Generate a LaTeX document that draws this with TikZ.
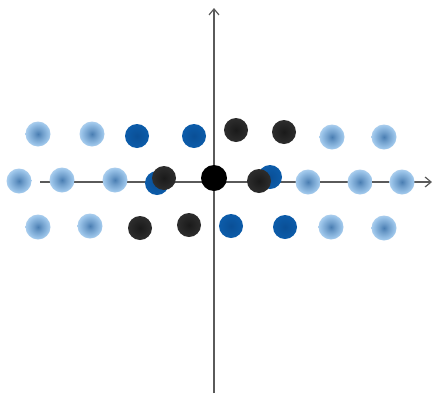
\documentclass[tikz,border=0pt]{standalone}
\usetikzlibrary{arrows.meta}
\definecolor{lbc}{HTML}{4A7EB2}
\definecolor{lbm}{HTML}{9CC5EA}
\definecolor{lbo}{HTML}{DCEBF8}
\definecolor{dbc}{HTML}{0A4F96}
\definecolor{dbm}{HTML}{0D5FAE}
\definecolor{dbo}{HTML}{6FA6D8}
\definecolor{bkc}{HTML}{1A1A1A}
\definecolor{bkm}{HTML}{333333}
\definecolor{bko}{HTML}{9A9A9A}
\definecolor{axisc}{HTML}{5A5A5A}
\pgfdeclareradialshading{lbdot}{\pgfpoint{0bp}{0bp}}{color(0bp)=(lbc); color(8bp)=(lbc!60!lbm); color(22bp)=(lbm); color(36bp)=(lbo); color(50bp)=(white)}
\pgfdeclareradialshading{dbdot}{\pgfpoint{0bp}{0bp}}{color(0bp)=(dbc); color(30bp)=(dbm); color(40bp)=(dbm!75!dbo); color(50bp)=(white)}
\pgfdeclareradialshading{bkdot}{\pgfpoint{0bp}{0bp}}{color(0bp)=(bkc); color(32bp)=(bkm); color(42bp)=(bkm!70!bko); color(50bp)=(white)}
\pgfdeclareradialshading{bcdot}{\pgfpoint{0bp}{0bp}}{color(0bp)=(black); color(38bp)=(black); color(45bp)=(bkm); color(50bp)=(white)}
\tikzset{
  dotbase/.style={circle, inner sep=0pt, draw=none},
  lb/.style={dotbase, minimum size=25pt, shading=lbdot},
  db/.style={dotbase, minimum size=24pt, shading=dbdot},
  bk/.style={dotbase, minimum size=24pt, shading=bkdot},
  bc/.style={dotbase, minimum size=26pt, shading=bcdot},
  axisline/.style={draw=axisc, line width=1.2pt, -{Straight Barb[length=6pt,width=10pt,line width=1.2pt]}}
}
\begin{document}
\begin{tikzpicture}[x=1pt,y=-1pt]
\useasboundingbox (0,0) rectangle (434,397);
\fill[white] (0,0) rectangle (434,397);
% axes
\coordinate (xs) at (40,182);
\coordinate (xe) at (432,182);
\coordinate (ys) at (214,393);
\coordinate (ye) at (214,8);
\draw[axisline] (xs) -- (xe);
\draw[axisline] (ys) -- (ye);
% light blue dots
\node[lb] (t1) at (38,134) {};
\node[lb] (t2) at (92,134) {};
\node[lb] (t7) at (332,137) {};
\node[lb] (t8) at (384,137) {};
\node[lb] (m1) at (19,181) {};
\node[lb] (m2) at (62,180) {};
\node[lb] (m3) at (115,180) {};
\node[lb] (m7) at (308,182) {};
\node[lb] (m8) at (360,182) {};
\node[lb] (m9) at (402,182) {};
\node[lb] (b1) at (38,227) {};
\node[lb] (b2) at (90,226) {};
\node[lb] (b7) at (331,227) {};
\node[lb] (b8) at (384,228) {};
% dark blue dots
\node[db] (t3) at (137,136) {};
\node[db] (t4) at (194,136) {};
\node[db] (m4) at (157,183) {};
\node[db] (m6) at (270,177) {};
\node[db] (b5) at (231,226) {};
\node[db] (b6) at (285,227) {};
% black dots
\node[bk] (t5) at (236,130) {};
\node[bk] (t6) at (284,132) {};
\node[bk] (m5) at (164,178) {};
\node[bk] (m7b) at (259,181) {};
\node[bk] (b3) at (140,228) {};
\node[bk] (b4) at (189,225) {};
\node[bc] (c) at (214,178) {};
\end{tikzpicture}
\end{document}
